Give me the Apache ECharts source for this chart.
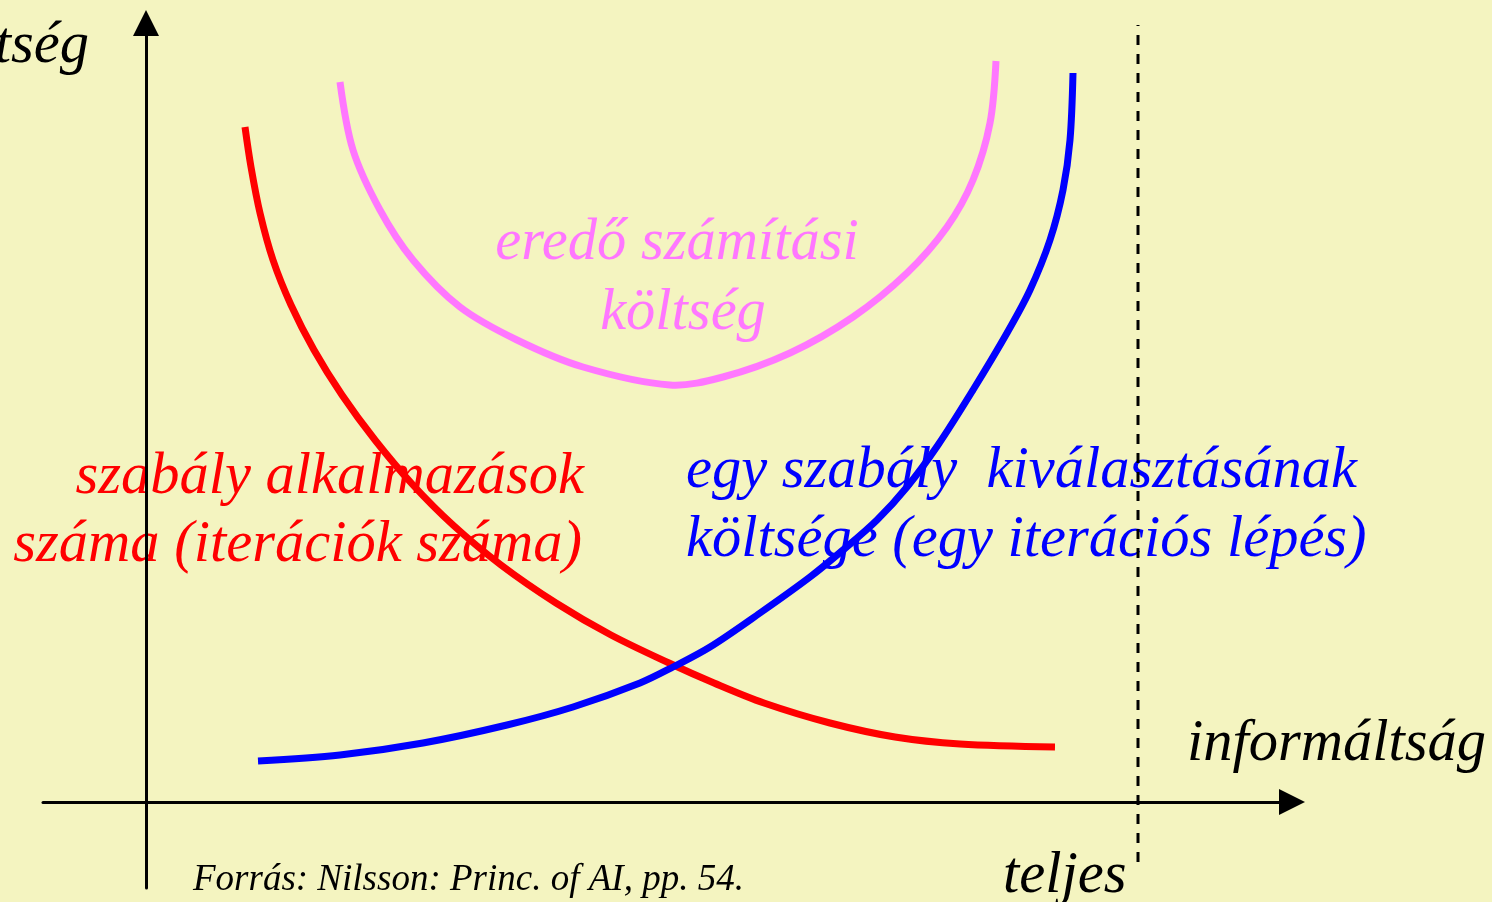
<!DOCTYPE html>
<html>
<head>
<meta charset="utf-8">
<title>költség / informáltság</title>
<script src="https://cdn.jsdelivr.net/npm/echarts@6/dist/echarts.min.js"></script>
<style>
    html, body { margin: 0; padding: 0; background: #f4f4c0; }
    #chart { width: 1492px; height: 902px; }
</style>
</head>
<body>
<div id="chart"></div>
<script>
// x = informáltság, y = költség (origin at the axis crossing)
var iterX = [99, 105, 114, 127, 145, 168, 196, 229, 267, 307, 355, 410, 465, 523, 568, 618, 684, 749, 814, 909];
var iterY = [675, 635, 589, 542, 497, 452, 407, 362, 317, 277, 237, 199, 167, 139, 119, 99, 79, 65, 58, 55];

var stepX = [112, 194, 277, 361, 427, 494, 527, 564, 614, 664, 697, 731, 761, 792, 827, 861, 884, 904, 917, 924, 927];
var stepY = [41, 47, 59, 77, 95, 119, 135, 155, 189, 225, 252, 282, 315, 357, 412, 469, 512, 562, 612, 662, 729];

var totalX = [194, 207, 234, 267, 314, 371, 437, 524, 577, 644, 707, 761, 801, 827, 844, 850];
var totalY = [720, 652, 592, 542, 495, 462, 435, 417, 425, 449, 485, 529, 575, 622, 679, 741];

// "teljes" informáltság
var teljesX = [992, 992];
var teljesY = [-60, 777];

var FONT = '"Liberation Serif", "Times New Roman", serif';

function pairs(xs, ys) {
    var out = [];
    for (var i = 0; i < xs.length; i++) {
        out.push([xs[i], ys[i]]);
    }
    return out;
}

// baseline -> middle of the em box for the serif font
function label(text, x, baseline, size, color, align) {
    return {
        type: 'text',
        x: x,
        y: baseline - size * 0.27,
        style: {
            text: text,
            font: 'italic ' + size + 'px ' + FONT,
            fill: color,
            align: align || 'left',
            verticalAlign: 'middle'
        }
    };
}

var chart = echarts.init(document.getElementById('chart'));

// one smooth path per curve, points go through the cartesian scales
function curve(name, xs, ys, color) {
    return {
        name: name,
        type: 'custom',
        data: pairs(xs, ys),
        renderItem: function (params, api) {
            if (params.dataIndex !== 0) {
                return;
            }
            var pts = [];
            for (var i = 0; i < xs.length; i++) {
                pts.push(api.coord([xs[i], ys[i]]));
            }
            return {
                type: 'polyline',
                shape: { points: pts, smooth: 0.33 },
                style: { stroke: color, lineWidth: 7, fill: null, lineCap: 'butt', lineJoin: 'round' }
            };
        }
    };
}

var axisLine = {
    show: true,
    onZero: true,
    symbol: ['none', 'triangle'],
    symbolSize: [26, 26],
    lineStyle: { color: '#000', width: 3 }
};

var option = {
    backgroundColor: '#f4f4c0',
    animation: false,
    grid: { left: 43, right: 200, top: 23, bottom: 14 },
    xAxis: {
        type: 'value',
        min: -103,
        max: 1146,
        axisLine: axisLine,
        axisTick: { show: false },
        axisLabel: { show: false },
        splitLine: { show: false }
    },
    yAxis: {
        type: 'value',
        min: -86,
        max: 779,
        axisLine: axisLine,
        axisTick: { show: false },
        axisLabel: { show: false },
        splitLine: { show: false }
    },
    graphic: [
        label('költség', 89, 62, 58.5, '#000', 'right'),
        label('eredő számítási', 677, 259, 58.5, '#ff77ff', 'center'),
        label('költség', 683, 329, 58.5, '#ff77ff', 'center'),
        label('szabály alkalmazások', 584, 493, 58.5, '#ff0000', 'right'),
        label('száma (iterációk száma)', 582, 561, 58.5, '#ff0000', 'right'),
        label('egy szabály  kiválasztásának', 686, 487, 58.5, '#0000ff'),
        label('költsége (egy iterációs lépés)', 686, 556, 58.5, '#0000ff'),
        label('informáltság', 1187, 760, 58.5, '#000'),
        label('teljes', 1003, 892, 58.5, '#000'),
        label('Forrás: Nilsson: Princ. of AI, pp. 54.', 193, 890, 37, '#000')
    ],
    series: [
        {
            name: 'teljes',
            type: 'line',
            data: pairs(teljesX, teljesY),
            showSymbol: false,
            symbol: 'none',
            lineStyle: { color: '#000', width: 3, type: [10, 9] }
        },
        curve('eredő számítási költség', totalX, totalY, '#ff77ff'),
        curve('szabály alkalmazások száma', iterX, iterY, '#ff0000'),
        curve('egy szabály kiválasztásának költsége', stepX, stepY, '#0000ff')
    ]
};

chart.setOption(option);
</script>
</body>
</html>
